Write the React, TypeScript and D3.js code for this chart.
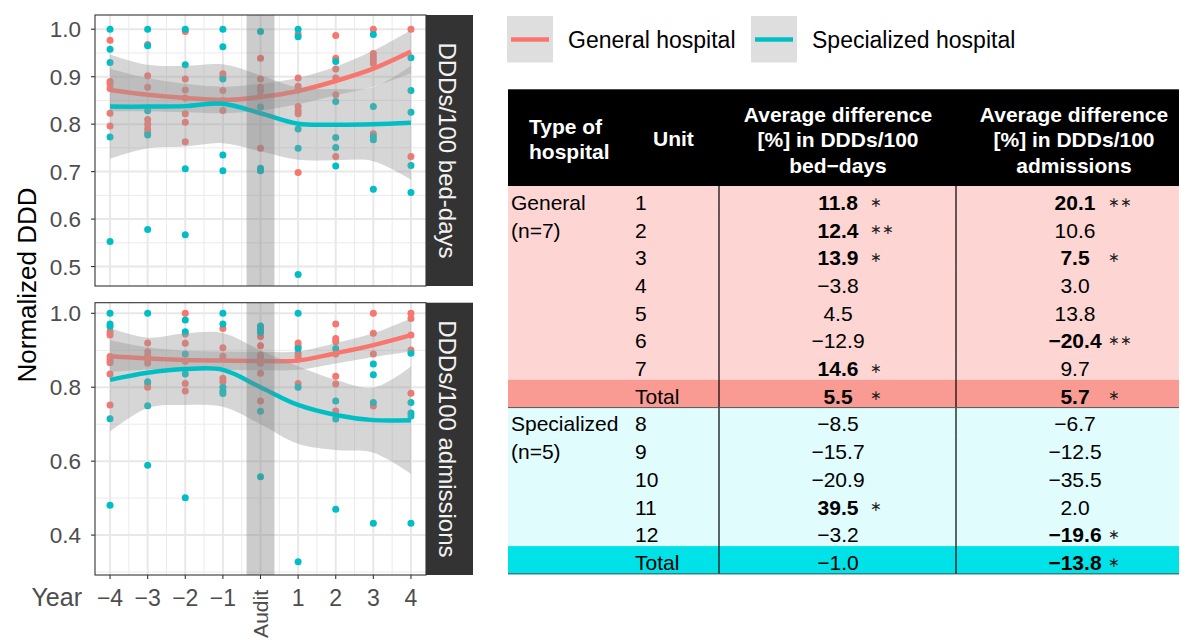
import React, { useEffect } from "react";
import * as d3 from "d3";

// ---------- data ----------
const years = [-4, -3, -2, -1, 0, 1, 2, 3, 4];
const xTickLabels = ["\u22124", "\u22123", "\u22122", "\u22121", "Audit", "1", "2", "3", "4"];

// points per year (index aligned with years)
const bedGeneralPts: number[][] = [
  [0.977, 0.89, 0.885, 0.875, 0.823, 0.796],
  [0.968, 0.902, 0.878, 0.81, 0.8, 0.79, 0.783],
  [0.995, 0.895, 0.872, 0.855, 0.822, 0.804, 0.763],
  [0.906, 0.9, 0.871, 0.85, 0.829],
  [0.939, 0.895, 0.878, 0.871, 0.86, 0.749],
  [0.99, 0.897, 0.88, 0.872, 0.837, 0.828, 0.822, 0.698],
  [0.987, 0.939, 0.916, 0.897, 0.862, 0.732],
  [1.0, 0.949, 0.942, 0.935, 0.928, 0.78],
  [1.0, 0.732],
];
const bedSpecialPts: number[][] = [
  [1.0, 0.958, 0.93, 0.773, 0.553],
  [1.0, 0.965, 0.828, 0.777, 0.578],
  [1.0, 0.925, 0.706, 0.567],
  [1.0, 0.963, 0.895, 0.735, 0.702],
  [0.995, 0.836, 0.707, 0.702],
  [1.0, 0.984, 0.79, 0.749, 0.483],
  [0.932, 0.848, 0.772, 0.751, 0.712],
  [0.989, 0.837, 0.774, 0.767, 0.663],
  [0.94, 0.871, 0.825, 0.713, 0.656],
];
const admGeneralPts: number[][] = [
  [0.95, 0.941, 0.883, 0.874, 0.866, 0.836, 0.752],
  [0.92, 0.896, 0.885, 0.875, 0.865, 0.81, 0.8],
  [1.0, 0.944, 0.919, 0.87, 0.81, 0.79],
  [0.959, 0.907, 0.884, 0.824, 0.815],
  [0.937, 0.912, 0.887, 0.878, 0.865, 0.838, 0.763],
  [0.92, 0.911, 0.892, 0.883, 0.81],
  [0.971, 0.932, 0.923, 0.89, 0.83, 0.809, 0.736],
  [1.0, 0.946, 0.89, 0.749],
  [1.0, 0.986, 0.941, 0.901, 0.784],
];
const admSpecialPts: number[][] = [
  [1.0, 0.971, 0.964, 0.715, 0.481],
  [1.0, 0.815, 0.75, 0.589],
  [0.982, 0.95, 0.89, 0.836, 0.501],
  [1.0, 0.971, 0.8, 0.79, 0.783],
  [0.966, 0.957, 0.949, 0.735, 0.558],
  [1.0, 0.905, 0.8, 0.328],
  [0.905, 0.763, 0.714, 0.47],
  [0.863, 0.834, 0.759, 0.432],
  [0.892, 0.759, 0.73, 0.722, 0.432],
];

// smoothed trend and its half-width
const bedGeneralFit = [0.872, 0.862, 0.855, 0.851, 0.857, 0.87, 0.891, 0.917, 0.953];
const bedGeneralSe = [0.045, 0.035, 0.03, 0.028, 0.028, 0.028, 0.03, 0.038, 0.045];
const bedSpecialFit = [0.837, 0.837, 0.838, 0.843, 0.823, 0.801, 0.799, 0.8, 0.803];
const bedSpecialSe = [0.11, 0.088, 0.085, 0.083, 0.08, 0.076, 0.075, 0.078, 0.12];
const admGeneralFit = [0.884, 0.878, 0.874, 0.872, 0.871, 0.872, 0.892, 0.914, 0.941];
const admGeneralSe = [0.043, 0.03, 0.025, 0.025, 0.025, 0.025, 0.028, 0.032, 0.045];
const admSpecialFit = [0.82, 0.839, 0.849, 0.847, 0.8, 0.752, 0.725, 0.711, 0.711];
const admSpecialSe = [0.14, 0.095, 0.097, 0.1, 0.1, 0.105, 0.095, 0.088, 0.145];

const panelLabels = ["DDDs/100 bed-days", "DDDs/100 admissions"];
const legendLabels = ["General hospital", "Specialized hospital"];

// table
const headerCol1 = ["Type of", "hospital"];
const headerCol2 = ["Unit"];
const headerCol3 = ["Average difference", "[%] in DDDs/100", "bed\u2212days"];
const headerCol4 = ["Average difference", "[%] in DDDs/100", "admissions"];
const groupLabels = [["General", "(n=7)"], ["Specialized", "(n=5)"]];
const units = ["1", "2", "3", "4", "5", "6", "7", "Total", "8", "9", "10", "11", "12", "Total"];
const rowKinds = ["g", "g", "g", "g", "g", "g", "g", "gt", "s", "s", "s", "s", "s", "st"];
const bedDiff = ["11.8", "12.4", "13.9", "\u22123.8", "4.5", "\u221212.9", "14.6", "5.5", "\u22128.5", "\u221215.7", "\u221220.9", "39.5", "\u22123.2", "\u22121.0"];
const bedStars = ["\u2217", "\u2217\u2217", "\u2217", "", "", "", "\u2217", "\u2217", "", "", "", "\u2217", "", ""];
const admDiff = ["20.1", "10.6", "7.5", "3.0", "13.8", "\u221220.4", "9.7", "5.7", "\u22126.7", "\u221212.5", "\u221235.5", "2.0", "\u221219.6", "\u221213.8"];
const admStars = ["\u2217\u2217", "", "\u2217", "", "", "\u2217\u2217", "", "\u2217", "", "", "", "", "\u2217", "\u2217"];

// ---------- style ----------
const RED = "#F8766D";
const TEAL = "#00BFC4";
const FONT = "'Liberation Sans', Arial, Helvetica, sans-serif";
const rowFill: Record<string, string> = { g: "#FDD5D3", gt: "#F99B92", s: "#E1FCFD", st: "#00E2E8" };

const W = 1181, H = 641;
const PX0 = 95, PX1 = 426;
const STRIP_W = 47;

const panels = [
  {
    y0: 15, y1: 286, domain: [0.459, 1.03],
    major: [0.5, 0.6, 0.7, 0.8, 0.9, 1.0], minor: [0.55, 0.65, 0.75, 0.85, 0.95],
    gen: bedGeneralPts, spec: bedSpecialPts,
    genFit: bedGeneralFit, genSe: bedGeneralSe, specFit: bedSpecialFit, specSe: bedSpecialSe,
  },
  {
    y0: 302.7, y1: 575, domain: [0.292, 1.0287],
    major: [0.4, 0.6, 0.8, 1.0], minor: [0.3, 0.5, 0.7, 0.9],
    gen: admGeneralPts, spec: admSpecialPts,
    genFit: admGeneralFit, genSe: admGeneralSe, specFit: admSpecialFit, specSe: admSpecialSe,
  },
];

const x = d3.scaleLinear().domain([-4.4, 4.4]).range([PX0, PX1]);
const xMinor = d3.range(-3.5, 4, 1);

function Panel({ p, idx }: { p: (typeof panels)[number]; idx: number }) {
  const y = d3.scaleLinear().domain(p.domain).range([p.y1, p.y0]);
  const line = d3.line<number>().x((_, i) => x(years[i])).y((d) => y(d)).curve(d3.curveCatmullRom);
  const band = (fit: number[], se: number[]) =>
    d3.area<number>()
      .x((_, i) => x(years[i]))
      .y0((d, i) => y(d - se[i]))
      .y1((d, i) => y(d + se[i]))
      .curve(d3.curveCatmullRom)(fit) || "";
  const clipId = `clip${idx}`;
  const fmt = d3.format(".1f");
  const cy = (p.y0 + p.y1) / 2;
  return (
    <g>
      <defs>
        <clipPath id={clipId}>
          <rect x={PX0} y={p.y0} width={PX1 - PX0} height={p.y1 - p.y0} />
        </clipPath>
      </defs>
      <rect x={PX0} y={p.y0} width={PX1 - PX0} height={p.y1 - p.y0} fill="#fff" />
      <g clipPath={`url(#${clipId})`}>
        {p.minor.map((v) => (
          <line key={"ym" + v} x1={PX0} x2={PX1} y1={y(v)} y2={y(v)} stroke="#ebebeb" strokeWidth={1} />
        ))}
        {xMinor.map((v) => (
          <line key={"xm" + v} y1={p.y0} y2={p.y1} x1={x(v)} x2={x(v)} stroke="#ebebeb" strokeWidth={1} />
        ))}
        {p.major.map((v) => (
          <line key={"yM" + v} x1={PX0} x2={PX1} y1={y(v)} y2={y(v)} stroke="#e8e8e8" strokeWidth={2} />
        ))}
        {years.map((v) => (
          <line key={"xM" + v} y1={p.y0} y2={p.y1} x1={x(v)} x2={x(v)} stroke="#e8e8e8" strokeWidth={2} />
        ))}
        {p.gen.map((vals, i) =>
          vals.map((v, j) => <circle key={`g${i}-${j}`} cx={x(years[i])} cy={y(v)} r={3.5} fill={RED} />)
        )}
        {p.spec.map((vals, i) =>
          vals.map((v, j) => <circle key={`s${i}-${j}`} cx={x(years[i])} cy={y(v)} r={3.5} fill={TEAL} />)
        )}
        <path d={band(p.genFit, p.genSe)} fill="#999999" fillOpacity={0.4} />
        <path d={line(p.genFit) || ""} fill="none" stroke={RED} strokeWidth={4.5} />
        <path d={band(p.specFit, p.specSe)} fill="#999999" fillOpacity={0.4} />
        <path d={line(p.specFit) || ""} fill="none" stroke={TEAL} strokeWidth={4.5} />
        <rect x={x(-0.37)} y={p.y0} width={x(0.37) - x(-0.37)} height={p.y1 - p.y0} fill="#7f7f7f" fillOpacity={0.4} />
      </g>
      <rect x={PX0} y={p.y0} width={PX1 - PX0} height={p.y1 - p.y0} fill="none" stroke="#333333" strokeWidth={1.1} />
      {p.major.map((v) => (
        <g key={"t" + v}>
          <line x1={PX0 - 4} x2={PX0} y1={y(v)} y2={y(v)} stroke="#333333" strokeWidth={1.1} />
          <text x={PX0 - 14} y={y(v)} dy="0.36em" textAnchor="end" fontSize={22.5} fill="#4d4d4d">
            {fmt(v)}
          </text>
        </g>
      ))}
      <rect x={PX1} y={p.y0} width={STRIP_W} height={p.y1 - p.y0} fill="#333333" />
      <text
        transform={`translate(${PX1 + 13},${cy}) rotate(90)`}
        textAnchor="middle"
        fontSize={24}
        fill="#f2f2f2"
      >
        {panelLabels[idx]}
      </text>
    </g>
  );
}

function Table() {
  const L = 508, R = 1179, HT = 89.3, HB = 186, RH = 27.7;
  const c3 = 838, c4 = 1075, s3 = 870, s4 = 1108;
  const v1 = 719, v2 = 956;
  const rowTop = (i: number) => HB + i * RH;
  const fs = 21;
  return (
    <g fontSize={fs}>
      <rect x={L} y={HT} width={R - L} height={HB - HT} fill="#000" />
      {headerCol1.map((t, i) => (
        <text key={"h1" + i} x={529} y={126.7 + i * 25} dy="0.36em" fill="#fff" fontWeight="bold">{t}</text>
      ))}
      {headerCol2.map((t, i) => (
        <text key={"h2" + i} x={653} y={138} dy="0.36em" fill="#fff" fontWeight="bold">{t}</text>
      ))}
      {headerCol3.map((t, i) => (
        <text key={"h3" + i} x={c3} y={114 + i * 25.5} dy="0.36em" fill="#fff" fontWeight="bold" textAnchor="middle">{t}</text>
      ))}
      {headerCol4.map((t, i) => (
        <text key={"h4" + i} x={1074} y={114 + i * 25.5} dy="0.36em" fill="#fff" fontWeight="bold" textAnchor="middle">{t}</text>
      ))}
      {units.map((u, i) => (
        <rect key={"r" + i} x={L} y={rowTop(i)} width={R - L} height={RH + 0.5} fill={rowFill[rowKinds[i]]} />
      ))}
      {groupLabels.map((g, gi) =>
        g.map((t, k) => {
          const start = gi === 0 ? 0 : 8;
          return (
            <text key={`g${gi}${k}`} x={511} y={rowTop(start + k) + 16.3} dy="0.36em" fill="#000">{t}</text>
          );
        })
      )}
      {units.map((u, i) => {
        const yy = rowTop(i) + 16.3;
        return (
          <g key={"row" + i}>
            <text x={635} y={yy} dy="0.36em">{u}</text>
            <text x={c3} y={yy} dy="0.36em" textAnchor="middle" fontWeight={bedStars[i] ? "bold" : "normal"}>{bedDiff[i]}</text>
            {bedStars[i] && <text x={s3} y={yy} dy="0.3em" fontSize={14} fill="#222">{bedStars[i]}</text>}
            <text x={c4} y={yy} dy="0.36em" textAnchor="middle" fontWeight={admStars[i] ? "bold" : "normal"}>{admDiff[i]}</text>
            {admStars[i] && <text x={s4} y={yy} dy="0.3em" fontSize={14} fill="#222">{admStars[i]}</text>}
          </g>
        );
      })}
      <line x1={v1} x2={v1} y1={HB} y2={rowTop(14)} stroke="#000" strokeWidth={1.2} />
      <line x1={v2} x2={v2} y1={HB} y2={rowTop(14)} stroke="#000" strokeWidth={1.2} />
      <line x1={L} x2={R} y1={rowTop(8)} y2={rowTop(8)} stroke="#555" strokeWidth={1} />
      <line x1={L} x2={R} y1={rowTop(14)} y2={rowTop(14)} stroke="#555" strokeWidth={1} />
    </g>
  );
}

export default function App() {
  useEffect(() => {
    document.body.style.margin = "0";
    document.body.style.overflow = "hidden";
  }, []);
  const bottom = panels[1].y1;
  return (
    <svg width={W} height={H} style={{ position: "absolute", left: 0, top: 0, background: "#fff" }} fontFamily={FONT}>
      <rect x={0} y={0} width={W} height={H} fill="#fff" />
      {panels.map((p, i) => (
        <Panel key={i} p={p} idx={i} />
      ))}
      {/* x axis */}
      {years.map((v, i) => (
        <g key={"xt" + v}>
          <line x1={x(v)} x2={x(v)} y1={bottom} y2={bottom + 4} stroke="#333333" strokeWidth={1.1} />
          {xTickLabels[i] === "Audit" ? (
            <text transform={`translate(${x(v) + 7},${590}) rotate(-90)`} textAnchor="end" fontSize={21} fill="#4d4d4d">
              {xTickLabels[i]}
            </text>
          ) : (
            <text x={x(v)} y={606} textAnchor="middle" fontSize={23} fill="#4d4d4d">
              {xTickLabels[i]}
            </text>
          )}
        </g>
      ))}
      <text x={82} y={606} textAnchor="end" fontSize={25} fill="#4d4d4d">Year</text>
      <text transform={`translate(36,285) rotate(-90)`} textAnchor="middle" fontSize={26} fill="#000">
        Normalized DDD
      </text>
      {/* legend */}
      {legendLabels.map((t, i) => {
        const kx = i === 0 ? 507 : 751;
        const tx = i === 0 ? 568 : 812;
        return (
          <g key={"lg" + i}>
            <rect x={kx} y={16} width={46} height={46.5} fill="#dedede" />
            <line x1={kx + 4} x2={kx + 42} y1={39.5} y2={39.5} stroke={i === 0 ? RED : TEAL} strokeWidth={4.5} />
            <text x={tx} y={40} dy="0.36em" fontSize={23} fill="#000">{t}</text>
          </g>
        );
      })}
      <Table />
    </svg>
  );
}
